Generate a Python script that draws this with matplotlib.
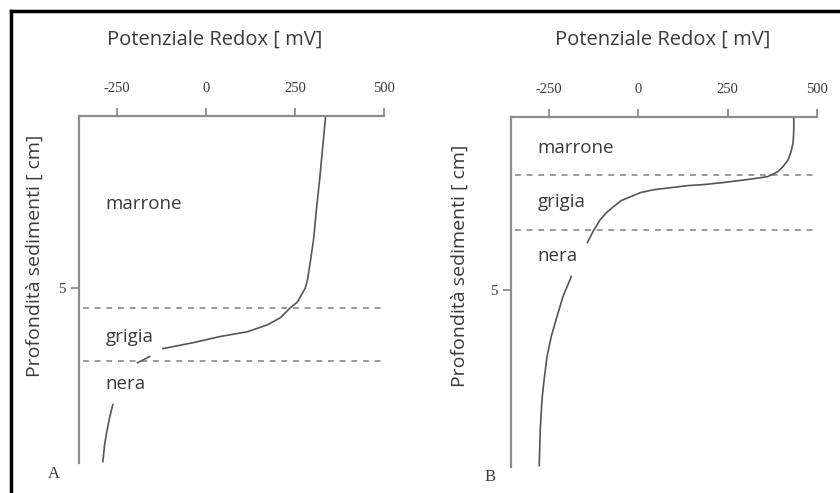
import matplotlib.pyplot as plt
import numpy as np
from matplotlib.lines import Line2D

# profile A (mV, cm) - NaN marks the breaks in the drawn curve
redox_a = [336, 327, 319, 310, 302, 293, 285, 279, 271, 257, 237, 209, 172, 116, 39, -37, -121,
           np.nan, -158, -192,
           np.nan, -262, -271, -279, -285, -290]
depth_a = [0, 0.99, 1.86, 2.73, 3.60, 4.24, 4.77, 5.0, 5.15, 5.41, 5.58, 5.87, 6.08, 6.28, 6.42,
           6.60, 6.77,
           np.nan, 7.0, 7.18,
           np.nan, 8.40, 8.78, 9.19, 9.56, 10.06]
layers_a = [5.58, 7.12]

# profile B
redox_b = [435, 435, 433, 427, 419, 404, 390, 362, 323, 278, 230, 183, 138, 90, 42, 6, -22, -48,
           -70, -90, -107, -126, -143,
           np.nan, -188, -211, -228, -244, -256, -264, -270, -275, -278]
depth_b = [0, 0.37, 0.75, 1.01, 1.24, 1.44, 1.58, 1.72, 1.78, 1.84, 1.90, 1.95, 1.98, 2.04, 2.10,
           2.18, 2.30, 2.41, 2.59, 2.76, 2.96, 3.28, 3.62,
           np.nan, 4.60, 5.17, 5.75, 6.32, 6.90, 7.56, 8.13, 8.99, 10.06]
layers_b = [1.67, 3.25]

xticks = [-250, 0, 250, 500]
layer_names = ["marrone", "grigia", "nera"]
label_depth_a = [2.56, 6.42, 7.8]
label_depth_b = [0.9, 2.44, 4.0]

axis_col = "#8c8c8c"
line_col = "#555555"
text_col = "#3a3a3a"
sans = "Open Sans"
serif = "Liberation Serif"

fig = plt.figure(figsize=(8.4, 4.93), dpi=100)
W, H = 840, 493


def make_axes(left, top, right, bottom):
    return fig.add_axes([left / W, 1 - bottom / H, (right - left) / W, (bottom - top) / H])


def setup(ax, redox, depth, layers, label_depth, tag, tag_xy, title_x, ylabel_xy):
    ax.set_xlim(-357, 500)
    ax.set_ylim(10.1, 0)
    for s in ["right", "bottom"]:
        ax.spines[s].set_visible(False)
    for s in ["top", "left"]:
        ax.spines[s].set_color(axis_col)
        ax.spines[s].set_linewidth(1.6)
    ax.xaxis.set_ticks_position("top")
    ax.set_xticks(xticks)
    ax.set_xticklabels([str(t) for t in xticks], fontfamily=serif, fontsize=10.5, color=text_col)
    ax.set_yticks([5])
    ax.set_yticklabels(["5"], fontfamily=serif, fontsize=10.5, color=text_col)
    ax.tick_params(axis="both", direction="out", length=6, width=1.3, color=axis_col)
    ax.tick_params(axis="x", pad=9)
    ax.tick_params(axis="y", pad=4)

    for d in layers:
        ax.axhline(d, xmin=0.013, xmax=1.0, color="#9a9a9a", lw=1.4, ls=(0, (3, 3)))
    ax.plot(redox, depth, color=line_col, lw=1.2)

    for name, d in zip(layer_names, label_depth):
        ax.text(-283, d, name, fontfamily=sans, fontsize=13.5, color=text_col, va="center", ha="left")

    fig.text(title_x / W, 1 - 40 / H, "Potenziale Redox [ mV]", fontfamily=sans, fontsize=14.5,
             color=text_col, ha="center", va="center")
    fig.text(ylabel_xy[0] / W, 1 - ylabel_xy[1] / H, "Profondità sedimenti [ cm]", fontfamily=sans,
             fontsize=14, color=text_col, ha="center", va="center", rotation=90)
    fig.text(tag_xy[0] / W, 1 - tag_xy[1] / H, tag, fontfamily=serif, fontsize=12,
             color=text_col, ha="center", va="center")


ax_a = make_axes(79, 116, 384, 463)
setup(ax_a, redox_a, depth_a, layers_a, label_depth_a, "A", (54, 474), 215, (35, 256))

ax_b = make_axes(511, 117, 817, 467)
setup(ax_b, redox_b, depth_b, layers_b, label_depth_b, "B", (490, 477), 663, (460, 266))

# frame around the picture (top and left edges are visible)
fig.add_artist(Line2D([11 / W, 1], [1 - 11 / H, 1 - 11 / H], color="black", lw=2.5,
                      transform=fig.transFigure))
fig.add_artist(Line2D([11 / W, 11 / W], [0, 1 - 11 / H], color="black", lw=2.5,
                      transform=fig.transFigure))

fig.savefig("out.png", dpi=100)
